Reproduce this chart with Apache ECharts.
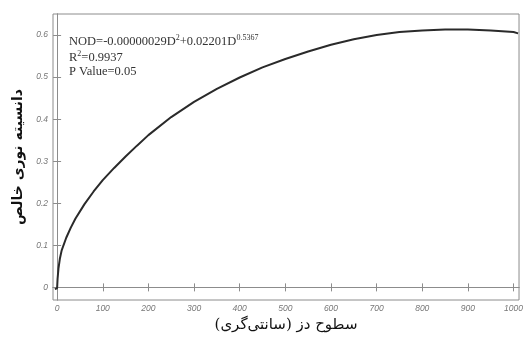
<!DOCTYPE html>
<html>
<head>
<meta charset="utf-8">
<script src="https://cdn.jsdelivr.net/npm/echarts@6/dist/echarts.min.js"></script>
<style>
  html, body { margin: 0; padding: 0; background: #fff; }
  #chart { width: 526px; height: 341px; }
</style>
</head>
<body>
<div id="chart"></div>
<script>
// dose (cGy) and net optical density
var doses = [-5, 0, 1, 3, 6, 10, 20, 30, 40, 60, 80, 100, 125, 150, 175, 200, 250, 300, 350, 400, 450, 500,
             550, 600, 650, 700, 750, 800, 850, 900, 950, 1000, 1010];
var nod = [-0.004, -0.002, 0.02, 0.045, 0.068, 0.088, 0.118, 0.142, 0.163, 0.198, 0.228, 0.255, 0.284, 0.311, 0.337, 0.362, 0.405, 0.441, 0.472, 0.499, 0.523, 0.543,
           0.561, 0.577, 0.59, 0.6, 0.607, 0.611, 0.613, 0.613, 0.611, 0.607, 0.604];

var xTicks = [0, 100, 200, 300, 400, 500, 600, 700, 800, 900, 1000];
var yTicks = [0, 0.1, 0.2, 0.3, 0.4, 0.5, 0.6];

var fitLines = [
    'NOD=-0.00000029D{sup|2}+0.02201D{sup|0.5367}',
    'R{sup|2}=0.9937',
    'P Value=0.05'
];

var axisGrey = '#8c8c8c';
var labelStyle = {
    color: '#777',
    fontStyle: 'italic',
    fontFamily: 'Liberation Sans',
    fontSize: 8.5
};

var chart = echarts.init(document.getElementById('chart'));

var option = {
    animation: false,
    grid: {
        left: 53,
        right: 6,
        top: 14,
        bottom: 41,
        show: true,
        borderColor: axisGrey,
        borderWidth: 1
    },
    xAxis: [{
        type: 'value',
        min: -9,
        max: 1012,
        name: 'سطوح دز (سانتی‌گری)',
        nameLocation: 'middle',
        nameGap: 13,
        nameTextStyle: { color: '#111', fontSize: 15, fontFamily: 'DejaVu Serif, DejaVu Sans' },
        axisLine: { lineStyle: { color: axisGrey } },
        axisTick: { inside: true, length: 4, customValues: xTicks, lineStyle: { color: axisGrey } },
        axisLabel: Object.assign({
            margin: 4,
            customValues: xTicks,
            formatter: function(v) { return String(v); }
        }, labelStyle),
        splitLine: { show: false }
    }, {
        type: 'value',
        position: 'top',
        min: -9,
        max: 1012,
        axisLine: { lineStyle: { color: axisGrey } },
        axisTick: { inside: true, length: 4, customValues: xTicks, lineStyle: { color: axisGrey } },
        axisLabel: { show: false },
        splitLine: { show: false }
    }],
    yAxis: [{
        type: 'value',
        min: -0.03,
        max: 0.65,
        name: 'دانسیته نوری خالص',
        nameLocation: 'middle',
        nameGap: 20,
        nameTextStyle: { color: '#111', fontSize: 14, fontWeight: 'bold', fontFamily: 'DejaVu Sans' },
        axisLine: { lineStyle: { color: axisGrey } },
        axisTick: { inside: true, length: 4, customValues: yTicks, lineStyle: { color: axisGrey } },
        axisLabel: Object.assign({ margin: 5, customValues: yTicks }, labelStyle),
        splitLine: { show: false }
    }, {
        type: 'value',
        position: 'right',
        min: -0.03,
        max: 0.65,
        axisLine: { lineStyle: { color: axisGrey } },
        axisTick: { inside: true, length: 4, customValues: yTicks, lineStyle: { color: axisGrey } },
        axisLabel: { show: false },
        splitLine: { show: false }
    }],
    series: [{
        type: 'line',
        data: doses.map(function(d, i) { return [d, nod[i]]; }),
        showSymbol: false,
        smooth: false,
        lineStyle: { color: '#2a2a2a', width: 2 }
    }],
    graphic: fitLines.map(function(t, i) {
        return {
            type: 'text',
            left: 69,
            top: 34 + i * 15.5,
            style: {
                text: t,
                fill: '#333',
                fontFamily: 'Liberation Serif',
                fontSize: 12.5,
                rich: {
                    sup: { fontSize: 8, verticalAlign: 'top', padding: [0, 0, 8, 0], fontFamily: 'Liberation Serif', fill: '#333' }
                }
            }
        };
    })
};

chart.setOption(option);
</script>
</body>
</html>
